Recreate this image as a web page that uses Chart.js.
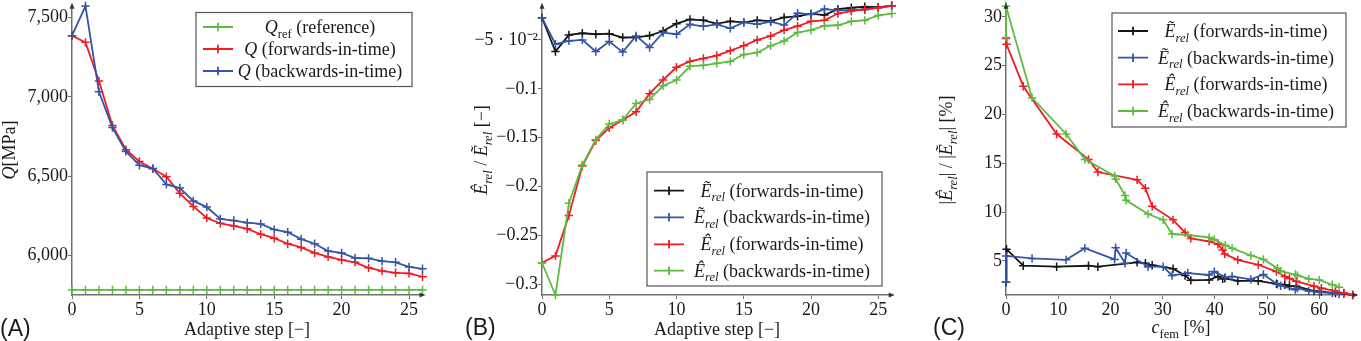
<!DOCTYPE html>
<html>
<head>
<meta charset="utf-8">
<script src="https://cdn.jsdelivr.net/npm/chart.js@4.4.1/dist/chart.umd.min.js"></script>
<style>
  body { margin: 0; background: #fff; width: 1361px; height: 341px; overflow: hidden; position: relative; }
  canvas { position: absolute; top: 0; }
</style>
</head>
<body>
<canvas id="chartA" width="450" height="341" style="left:0px"></canvas>
<canvas id="chartB" width="450" height="341" style="left:450px"></canvas>
<canvas id="chartC" width="461" height="341" style="left:900px"></canvas>
<script>
// adaptive steps 0..26
var steps = [0,1,2,3,4,5,6,7,8,9,10,11,12,13,14,15,16,17,18,19,20,21,22,23,24,25,26];

// (A) quantity of interest Q [MPa]
var qRef = [5784,5784,5784,5784,5784,5784,5784,5784,5784,5784,5784,5784,5784,5784,5784,5784,5784,5784,5784,5784,5784,5784,5784,5784,5784,5784,5784];
var qForward = [7386,7344,7100,6820,6668,6593,6547,6497,6393,6310,6237,6204,6187,6169,6135,6110,6075,6052,6017,5992,5973,5958,5923,5904,5892,5888,5867];
var qBackward = [7386,7573,7032,6807,6657,6570,6549,6449,6426,6345,6306,6231,6221,6208,6200,6164,6148,6104,6075,6029,6017,5985,5983,5965,5958,5929,5917];

// (B) relative error estimates per step
var eTildeFwd = [-0.0273,-0.0619,-0.0449,-0.0432,-0.0442,-0.0436,-0.0476,-0.0473,-0.0456,-0.0409,-0.0334,-0.0290,-0.0300,-0.0334,-0.0310,-0.0320,-0.0300,-0.0307,-0.0270,-0.0259,-0.0232,-0.0246,-0.0185,-0.0171,-0.0161,-0.0165,-0.0151];
var eTildeBwd = [-0.0273,-0.0544,-0.0510,-0.0500,-0.0619,-0.0517,-0.0625,-0.0459,-0.0578,-0.0425,-0.0442,-0.0341,-0.0361,-0.0341,-0.0381,-0.0320,-0.0341,-0.0314,-0.0348,-0.0226,-0.0239,-0.0185,-0.0198,-0.0195,-0.0191,-0.0171,-0.0151];
var eHatFwd = [-0.278,-0.271,-0.2296,-0.179,-0.153,-0.140,-0.132,-0.1235,-0.105,-0.091,-0.078,-0.072,-0.069,-0.066,-0.061,-0.056,-0.050,-0.046,-0.040,-0.036,-0.031,-0.030,-0.023,-0.0205,-0.0185,-0.017,-0.015];
var eHatBwd = [-0.278,-0.311,-0.217,-0.178,-0.152,-0.136,-0.132,-0.115,-0.111,-0.097,-0.091,-0.077,-0.076,-0.074,-0.072,-0.065,-0.063,-0.056,-0.051,-0.0425,-0.040,-0.0355,-0.035,-0.031,-0.030,-0.025,-0.023];

// (C) error in % against refined fraction c_fem in %
var cfemFwd = [0,0.1,3.3,9.7,15.8,17.6,25.1,26.7,28.0,32.0,34.3,35.4,38.9,40.6,41.5,41.9,44.4,48.3,51.8,53.4,54.3,55.6,59.0,60.4,63.1,64.7,66.4];
var cfemBwd = [0,0,5.0,11.5,15.1,20.8,21.0,22.8,23.0,27.2,30.1,31.8,34.8,38.9,39.9,42.0,43.3,46.9,49.3,52.0,52.6,55.4,55.8,58.0,60.0,62.5,63.8];
var errTildeFwd = [2.8,6.2,4.5,4.4,4.5,4.4,4.85,4.75,4.55,4.2,3.5,3.0,3.05,3.4,3.15,3.2,2.95,2.95,2.65,2.55,2.4,2.4,1.9,1.85,1.7,1.65,1.5];
var errTildeBwd = [2.8,5.5,5.25,5.1,6.3,5.15,6.35,4.75,5.8,4.4,4.4,3.5,3.75,3.55,3.9,3.3,3.4,3.1,3.6,2.6,2.45,2.05,2.2,1.9,1.8,1.7,1.6];
var errHatFwd = [27.8,27.2,22.9,18.0,15.4,14.1,13.3,12.45,10.6,9.2,7.9,7.3,7.0,6.7,6.1,5.7,5.1,4.6,3.9,3.4,3.2,2.9,2.4,2.2,1.9,1.7,1.5];
var errHatBwd = [27.9,31.1,21.7,18.0,15.4,13.7,13.4,11.7,11.2,9.8,9.2,7.75,7.65,7.4,7.2,6.6,6.3,5.55,5.15,4.25,3.95,3.6,3.5,3.15,3.05,2.55,2.3];

// tick positions and labels
var stepTicks = [0,5,10,15,20,25];
var qTicks = [6000,6500,7000,7500];
var eTicks = [-0.3,-0.25,-0.2,-0.15,-0.1,-0.05];
var eTickLabels = ['\u22120.3','\u22120.25','\u22120.2','\u22120.15','\u22120.1','\u22125 \u00b7 10\u207b\u00b2'];
var cfemTicks = [0,10,20,30,40,50,60];
var errTicks = [5,10,15,20,25,30];

var BLACK = '#161616', BLUE = '#3454a6', RED = '#ee1c24', GREEN = '#5fba40';
var SERIF = "'Liberation Serif', 'Times New Roman', serif";
var AXIS = '#707070';
var TXT = 18;

Chart.defaults.font.family = SERIF;
Chart.defaults.font.size = TXT;
Chart.defaults.color = '#1a1a1a';

function pairs(xs, ys) {
    return xs.map(function(x, i) { return { x: x, y: ys[i] }; });
}

function series(label, xs, ys, color, order) {
    return {
        label: label,
        data: pairs(xs, ys),
        borderColor: color,
        backgroundColor: color,
        borderWidth: 1.8,
        pointStyle: 'cross',
        pointRadius: 4.2,
        pointBorderWidth: 1.5,
        pointHoverRadius: 4.2,
        tension: 0,
        clip: false,
        order: order
    };
}

function scale(min, max, ticks, size, fmt) {
    return {
        type: 'linear',
        min: min,
        max: max,
        afterBuildTicks: function(s) {
            s.ticks = ticks.map(function(v) { return { value: v }; });
        },
        afterFit: function(s) {
            if (s.isHorizontal()) s.height = size; else s.width = size;
            s.paddingTop = 0; s.paddingBottom = 0; s.paddingLeft = 0; s.paddingRight = 0;
        },
        grid: { display: true, drawOnChartArea: false, drawTicks: true, tickLength: 4, tickColor: AXIS, tickWidth: 1 },
        border: { display: true, color: AXIS, width: 1.5 },
        ticks: { padding: 0, autoSkip: false, maxRotation: 0, minRotation: 0, font: { family: SERIF, size: TXT }, callback: fmt }
    };
}

// rich text: [text, style] with style '', 'i' (italic), 's' (subscript), 'is' (italic subscript)
function fontFor(style, size) {
    var sz = style.indexOf('s') >= 0 ? size * 0.7 : size;
    return (style.indexOf('i') >= 0 ? 'italic ' : '') + sz + 'px ' + SERIF;
}
function richWidth(ctx, segs, size) {
    var w = 0;
    segs.forEach(function(s) {
        ctx.font = fontFor(s[1], size);
        w += ctx.measureText(s[0]).width;
    });
    return w;
}
function drawRich(ctx, segs, x, y, size) {
    var cx = x - richWidth(ctx, segs, size) / 2;
    ctx.textAlign = 'left';
    ctx.textBaseline = 'alphabetic';
    segs.forEach(function(s) {
        ctx.font = fontFor(s[1], size);
        var dy = s[1].indexOf('s') >= 0 ? size * 0.25 : 0;
        ctx.fillText(s[0], cx, y + dy);
        cx += ctx.measureText(s[0]).width;
    });
}

// axis arrows, titles, panel letter and boxed legend
var decor = {
    id: 'decor',
    afterDraw: function(chart, args, o) {
        var ctx = chart.ctx, a = chart.chartArea;
        ctx.save();
        ctx.fillStyle = '#333';
        ctx.beginPath();
        ctx.moveTo(a.left, a.top - 3);
        ctx.lineTo(a.left - 2.5, a.top + 3);
        ctx.lineTo(a.left + 2.5, a.top + 3);
        ctx.closePath();
        ctx.fill();
        ctx.beginPath();
        ctx.moveTo(a.right + 3, a.bottom);
        ctx.lineTo(a.right - 3, a.bottom - 2.5);
        ctx.lineTo(a.right - 3, a.bottom + 2.5);
        ctx.closePath();
        ctx.fill();

        ctx.fillStyle = '#1a1a1a';
        drawRich(ctx, o.xTitle, o.xTitlePos[0], o.xTitlePos[1], TXT);
        ctx.save();
        ctx.translate(o.yTitlePos[0], o.yTitlePos[1]);
        ctx.rotate(-Math.PI / 2);
        drawRich(ctx, o.yTitle, 0, 0, TXT);
        ctx.restore();

        ctx.font = "23px 'Liberation Sans', Arial, sans-serif";
        ctx.textAlign = 'left';
        ctx.textBaseline = 'alphabetic';
        ctx.fillText(o.panel, o.panelPos[0], o.panelPos[1]);

        var L = o.legend, b = L.box;
        ctx.fillStyle = '#fff';
        ctx.fillRect(b[0], b[1], b[2] - b[0], b[3] - b[1]);
        ctx.strokeStyle = '#555';
        ctx.lineWidth = 1.2;
        ctx.strokeRect(b[0], b[1], b[2] - b[0], b[3] - b[1]);
        L.rows.forEach(function(ry, i) {
            var ds = chart.data.datasets[i];
            var mid = (L.line[0] + L.line[1]) / 2;
            ctx.strokeStyle = ds.borderColor;
            ctx.lineWidth = 1.8;
            ctx.beginPath();
            ctx.moveTo(L.line[0], ry);
            ctx.lineTo(L.line[1], ry);
            ctx.moveTo(mid, ry - 4.2);
            ctx.lineTo(mid, ry + 4.2);
            ctx.stroke();
            ctx.fillStyle = '#1a1a1a';
            drawRich(ctx, L.labels[i], L.textX, ry + 6, TXT);
        });
        ctx.restore();
    }
};

var tildeLab = function(dir) { return [['\u1ebc', 'i'], ['rel', 'is'], [' (' + dir + '-in-time)', '']]; };
var hatLab = function(dir) { return [['\u00ca', 'i'], ['rel', 'is'], [' (' + dir + '-in-time)', '']]; };
var stepTitle = [['Adaptive step [\u2212]', '']];

new Chart(document.getElementById('chartA'), {
    type: 'line',
    data: {
        datasets: [
            series('Qref (reference)', steps, qRef, GREEN, 3),
            series('Q (forwards-in-time)', steps, qForward, RED, 2),
            series('Q (backwards-in-time)', steps, qBackward, BLUE, 1)
        ]
    },
    options: {
        responsive: false,
        animation: false,
        layout: { padding: { left: 0, right: 27.5, top: 3.5, bottom: 0 } },
        scales: {
            x: scale(0, 26, stepTicks, 46, function(v) { return String(v); }),
            y: scale(5752, 7575, qTicks, 72, function(v) { return v.toLocaleString('en-US'); })
        },
        plugins: {
            legend: { display: false },
            tooltip: { enabled: false },
            decor: {
                panel: '(A)', panelPos: [0, 336],
                xTitle: stepTitle, xTitlePos: [247, 335],
                yTitle: [['Q', 'i'], ['[MPa]', '']], yTitlePos: [15, 150],
                legend: {
                    box: [196, 12.5, 412, 86.5],
                    rows: [27, 49, 71],
                    line: [203, 233],
                    textX: 320,
                    labels: [
                        [['Q', 'i'], ['ref', 's'], [' (reference)', '']],
                        [['Q', 'i'], [' (forwards-in-time)', '']],
                        [['Q', 'i'], [' (backwards-in-time)', '']]
                    ]
                }
            }
        }
    },
    plugins: [decor]
});

new Chart(document.getElementById('chartB'), {
    type: 'line',
    data: {
        datasets: [
            series('Etilde fwd', steps, eTildeFwd, BLACK, 4),
            series('Etilde bwd', steps, eTildeBwd, BLUE, 3),
            series('Ehat fwd', steps, eHatFwd, RED, 2),
            series('Ehat bwd', steps, eHatBwd, GREEN, 1)
        ]
    },
    options: {
        responsive: false,
        animation: false,
        layout: { padding: { left: 0, right: 8.3, top: 4, bottom: 0 } },
        scales: {
            x: scale(0, 26, stepTicks, 46, function(v) { return String(v); }),
            y: scale(-0.311, -0.015, eTicks, 92, function(v, i) { return eTickLabels[i]; })
        },
        plugins: {
            legend: { display: false },
            tooltip: { enabled: false },
            decor: {
                panel: '(B)', panelPos: [15, 335],
                xTitle: stepTitle, xTitlePos: [267, 335],
                yTitle: [['\u00ca', 'i'], ['rel', 'is'], [' / ', ''], ['\u1ebc', 'i'], ['rel', 'is'], [' [\u2212]', '']],
                yTitlePos: [37, 150],
                legend: {
                    box: [197, 172, 432, 286],
                    rows: [190.7, 217.3, 244.3, 270.7],
                    line: [204, 234],
                    textX: 332,
                    labels: [tildeLab('forwards'), tildeLab('backwards'), hatLab('forwards'), hatLab('backwards')]
                }
            }
        }
    },
    plugins: [decor]
});

new Chart(document.getElementById('chartC'), {
    type: 'line',
    data: {
        datasets: [
            series('Etilde fwd', cfemFwd, errTildeFwd, BLACK, 4),
            series('Etilde bwd', cfemBwd, errTildeBwd, BLUE, 3),
            series('Ehat fwd', cfemFwd, errHatFwd, RED, 2),
            series('Ehat bwd', cfemBwd, errHatBwd, GREEN, 1)
        ]
    },
    options: {
        responsive: false,
        animation: false,
        layout: { padding: { left: 0, right: 0.8, top: 4, bottom: 0 } },
        scales: {
            x: scale(0, 66.9, cfemTicks, 46, function(v) { return String(v); }),
            y: scale(1.5, 31.15, errTicks, 106, function(v) { return String(v); })
        },
        plugins: {
            legend: { display: false },
            tooltip: { enabled: false },
            decor: {
                panel: '(C)', panelPos: [33, 335],
                xTitle: [['c', 'i'], ['fem', 's'], [' [%]', '']], xTitlePos: [281, 333],
                yTitle: [['|', ''], ['\u00ca', 'i'], ['rel', 'is'], ['| / |', ''], ['\u1ebc', 'i'], ['rel', 'is'], ['| [%]', '']],
                yTitlePos: [52, 150],
                legend: {
                    box: [212, 13, 446, 127],
                    rows: [31, 57.7, 84.3, 111],
                    line: [218, 248],
                    textX: 346,
                    labels: [tildeLab('forwards'), tildeLab('backwards'), hatLab('forwards'), hatLab('backwards')]
                }
            }
        }
    },
    plugins: [decor]
});
</script>
</body>
</html>
